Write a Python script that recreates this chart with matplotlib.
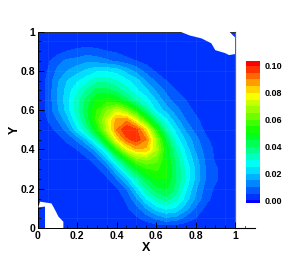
import numpy as np
import matplotlib
matplotlib.use("Agg")
import matplotlib.pyplot as plt
from matplotlib.colors import ListedColormap, BoundaryNorm, LinearSegmentedColormap

plt.rcParams["font.family"] = ["Liberation Sans", "DejaVu Sans"]
plt.rcParams["font.weight"] = "bold"

x_grid = [0, .05, .1, .15, .2, .25, .3, .35, .4, .45, .5, .55, .6, .65, .7, .75, .8, .85, .9, .95, 1]
y_grid = [1, .95, .9, .85, .8, .75, .7, .65, .6, .55, .5, .45, .4, .35, .3, .25, .2, .15, .1, .05, 0]

# values in units of 0.001, top row is y=1
z_rows = [
    [1, 1, 1, 1, 1, 1, 1, 1, 1, 1, 1, 1, 1, 1, 1, 1, 1, 1, 1, 1, 1],
    [1, 1, 1, 2, 2, 2, 2, 2, 2, 2, 2, 2, 1, 1, 1, 1, 1, 1, 1, 1, 1],
    [1, 1, 3, 5, 6, 7, 6, 5, 4, 2, 2, 2, 2, 1, 1, 1, 1, 1, 1, 1, 1],
    [1, 4, 8, 11, 12, 14, 13, 11, 9, 7, 5, 3, 2, 2, 2, 1, 1, 1, 1, 1, 1],
    [1, 5, 11, 15, 18, 21, 24, 24, 23, 18, 13, 8, 4, 2, 2, 2, 1, 1, 1, 1, 1],
    [1, 6, 14, 20, 24, 28, 33, 33, 30, 26, 22, 14, 9, 5, 2, 2, 1, 1, 1, 1, 1],
    [1, 6, 15, 22, 29, 36, 42, 42, 38, 32, 26, 21, 14, 9, 5, 2, 2, 1, 1, 1, 1],
    [1, 6, 15, 23, 32, 42, 50, 52, 50, 42, 34, 27, 20, 12, 8, 5, 2, 2, 1, 1, 1],
    [1, 6, 14, 22, 33, 44, 55, 64, 72, 64, 50, 37, 24, 18, 12, 7, 4, 2, 1, 1, 1],
    [1, 5, 10, 18, 29, 42, 57, 72, 87, 88, 74, 54, 37, 26, 17, 10, 6, 3, 2, 1, 1],
    [1, 3, 6, 12, 23, 35, 50, 70, 90, 100, 96, 80, 54, 34, 23, 14, 8, 4, 2, 1, 1],
    [1, 1, 3, 6, 11, 20, 34, 54, 78, 93, 98, 90, 68, 44, 28, 19, 12, 6, 3, 1, 1],
    [1, 1, 1, 3, 5, 9, 18, 33, 54, 74, 84, 84, 70, 50, 34, 23, 14, 8, 4, 2, 1],
    [1, 1, 1, 2, 2, 4, 8, 18, 34, 50, 62, 66, 62, 50, 38, 26, 17, 9, 4, 2, 1],
    [1, 1, 1, 1, 2, 3, 4, 8, 20, 34, 46, 54, 56, 52, 40, 29, 19, 10, 6, 2, 1],
    [1, 1, 1, 1, 1, 2, 3, 4, 10, 20, 33, 44, 50, 50, 40, 29, 19, 10, 6, 2, 1],
    [1, 1, 1, 1, 1, 1, 2, 2, 4, 10, 22, 35, 43, 46, 38, 26, 16, 8, 4, 1, 1],
    [1, 1, 1, 1, 1, 1, 1, 2, 2, 6, 14, 25, 33, 38, 32, 23, 14, 7, 3, 1, 1],
    [1, 1, 1, 1, 1, 1, 1, 1, 2, 4, 8, 15, 22, 26, 24, 17, 9, 4, 2, 1, 1],
    [1, 1, 1, 1, 1, 1, 1, 1, 1, 2, 4, 7, 11, 14, 13, 8, 5, 2, 1, 1, 1],
    [1, 1, 1, 1, 1, 1, 1, 1, 1, 1, 1, 1, 1, 1, 1, 1, 1, 1, 1, 1, 1],
]

levels = [i * 0.005 for i in range(22)]
bar_ticks = [0.00, 0.02, 0.04, 0.06, 0.08, 0.10]

# holes in the solution
hole_ll_x = [.003, .012, .07, .088, .105, .13, .13, .037, .037]
hole_ll_y = [.105, .134, .125, .092, .058, .032, 0, 0, .109]
hole_ur_x = [.72, .77, .83, .88, .90, .95, .97, 1, 1, .97]
hole_ur_y = [1, .98, .965, .94, .905, .89, .88, .885, .97, 1]

color_stops = [(0, "#0032ff"), (.24, "#00ffff"), (.48, "#00ff00"), (.76, "#ffff00"), (1, "#ff0000")]
band_colors = LinearSegmentedColormap.from_list("tec", color_stops)(np.linspace(0, 1, 21))
cmap = ListedColormap(band_colors)
norm = BoundaryNorm(levels, cmap.N)

W, H = 289, 257
fig = plt.figure(figsize=(W / 100, H / 100), dpi=100)
ax = fig.add_axes([37.7 / W, 1 - 228 / H, 197.3 / W, 196.5 / H])

z = np.array(z_rows) / 1000
ax.contourf(x_grid, y_grid, z, levels=levels, cmap=cmap, norm=norm)
ax.fill(hole_ll_x, hole_ll_y, color="white", lw=0, zorder=3)
ax.fill(hole_ur_x, hole_ur_y, color="white", lw=0, zorder=3)

# faint mesh lines
for v in [.05, .2, .35, .5, .65, .8, .95]:
    ax.axvline(v, color="white", lw=0.5, alpha=0.08, zorder=2)
    ax.axhline(v, color="white", lw=0.5, alpha=0.08, zorder=2)

ax.set_xlim(0, 1)
ax.set_ylim(0, 1)
ax.set_xticks([0, .2, .4, .6, .8, 1])
ax.set_xticklabels(["0", "0.2", "0.4", "0.6", "0.8", "1"])
ax.set_yticks([0, .2, .4, .6, .8, 1])
ax.set_yticklabels(["0", "0.2", "0.4", "0.6", "0.8", "1"])
ax.set_xticks(np.arange(0, 1.01, .05), minor=True)
ax.set_yticks(np.arange(0, 1.01, .05), minor=True)
ax.tick_params(which="major", direction="in", length=4, width=0.7, labelsize=7.5, pad=2, top=False, right=False)
ax.tick_params(which="minor", direction="in", length=2, width=0.5, top=False, right=False)
ax.set_xlabel("X", fontsize=9, fontweight="bold")
ax.set_ylabel("Y", fontsize=9, fontweight="bold")
ax.xaxis.set_label_coords(0.55, -0.07)
ax.yaxis.set_label_coords(-0.085, 0.5)

for s in ax.spines.values():
    s.set_linewidth(0.7)
ax.spines["right"].set_color("#666666")
ax.spines["right"].set_linewidth(0.9)
ax.spines["top"].set_color("#333333")
ax.set_axisbelow(False)

# bottom axis runs on past x=1
ax.plot([1, 1.1], [0, 0], color="black", lw=0.8, clip_on=False, zorder=5)
ax.plot([1.05, 1.05], [0, 0.012], color="black", lw=0.5, clip_on=False, zorder=5)

cax = fig.add_axes([246 / W, 1 - 202.5 / H, 13.5 / W, 141 / H])
cax.pcolormesh([0, 1], levels, np.array(levels[:-1]).reshape(-1, 1) + 0.001, cmap=cmap, norm=norm)
cax.set_ylim(-0.0015, 0.1033)
cax.set_xticks([])
cax.yaxis.tick_right()
cax.set_yticks(bar_ticks)
cax.set_yticklabels([f"{t:.2f}" for t in bar_ticks])
cax.tick_params(length=0, labelsize=6.5, pad=4)
cax.set_facecolor("#0000ff")
for s in cax.spines.values():
    s.set_visible(False)

fig.savefig("out.png", dpi=100)
plt.close(fig)
